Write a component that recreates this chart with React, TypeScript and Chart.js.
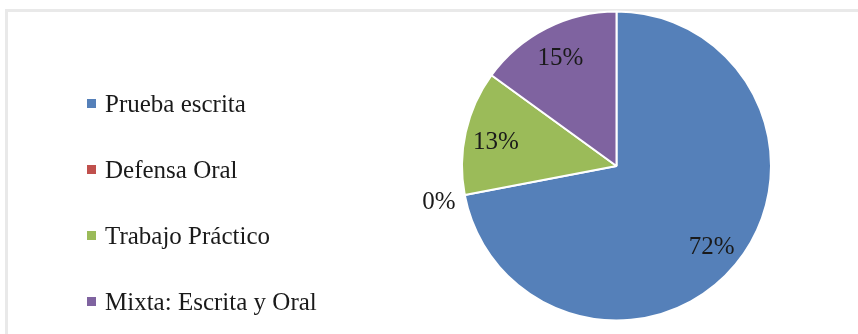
import React, { useEffect, useRef } from "react";
import { Chart, registerables } from "chart.js";

Chart.register(...registerables);

const categories = ["Prueba escrita", "Defensa Oral", "Trabajo Práctico", "Mixta: Escrita y Oral"];
const values = [72, 0, 13, 15];
const valueLabels = ["72%", "0%", "13%", "15%"];
const colors = ["#5580B9", "#C0504D", "#9BBB59", "#7F63A0"];

const FONT = "'Liberation Serif', 'Times New Roman', serif";

const framePlugin = {
  id: "frame",
  beforeDraw(chart: any) {
    const ctx = chart.ctx;
    ctx.save();
    ctx.fillStyle = "#ffffff";
    ctx.fillRect(0, 0, chart.width, chart.height);
    ctx.strokeStyle = "#e9e9e9";
    ctx.lineWidth = 3;
    ctx.beginPath();
    ctx.moveTo(6.5, chart.height + 2);
    ctx.lineTo(6.5, 10.5);
    ctx.lineTo(chart.width + 2, 10.5);
    ctx.stroke();
    ctx.restore();
  },
};

const legendPlugin = {
  id: "customLegend",
  afterDraw(chart: any) {
    const ctx = chart.ctx;
    const labels = chart.data.labels as string[];
    const bg = chart.data.datasets[0].backgroundColor as string[];
    ctx.save();
    ctx.font = `25px ${FONT}`;
    ctx.textBaseline = "middle";
    ctx.textAlign = "left";
    labels.forEach((lab, i) => {
      const y = 104 + i * 66;
      ctx.fillStyle = bg[i];
      ctx.fillRect(87, y - 5, 9, 9);
      ctx.fillStyle = "#1a1a1a";
      ctx.fillText(lab, 105, y + 1);
    });
    ctx.restore();
  },
};

const dataLabelPlugin = {
  id: "sliceLabels",
  afterDatasetsDraw(chart: any) {
    const ctx = chart.ctx;
    const meta = chart.getDatasetMeta(0);
    ctx.save();
    ctx.font = `25px ${FONT}`;
    ctx.fillStyle = "#1a1a1a";
    ctx.textAlign = "center";
    ctx.textBaseline = "middle";
    meta.data.forEach((arc: any, i: number) => {
      const { x, y, startAngle, endAngle, outerRadius } = arc.getProps(
        ["x", "y", "startAngle", "endAngle", "outerRadius"],
        true
      );
      const mid = (startAngle + endAngle) / 2;
      const v = values[i];
      const f = v > 0 ? 0.8 : 1.17;
      const lx = x + Math.cos(mid) * outerRadius * f;
      const ly = y + Math.sin(mid) * outerRadius * f + 3;
      ctx.fillText(valueLabels[i], lx, ly);
    });
    ctx.restore();
  },
};

export default function App() {
  const ref = useRef<HTMLCanvasElement>(null);
  useEffect(() => {
    if (!ref.current) return;
    const chart = new Chart(ref.current, {
      type: "pie",
      data: {
        labels: categories,
        datasets: [
          {
            data: values,
            backgroundColor: colors,
            borderColor: "#ffffff",
            borderWidth: 2,
          },
        ],
      },
      options: {
        animation: false,
        responsive: false,
        maintainAspectRatio: false,
        layout: { padding: { left: 461, right: 86, top: 10, bottom: 12 } },
        plugins: {
          legend: { display: false },
          tooltip: { enabled: false },
        },
      },
      plugins: [framePlugin, legendPlugin, dataLabelPlugin],
    });
    return () => chart.destroy();
  }, []);
  return (
    <div style={{ position: "fixed", left: 0, top: 0, width: 858, height: 334, background: "#fff" }}>
      <canvas ref={ref} width={858} height={334} style={{ display: "block", width: 858, height: 334 }} />
    </div>
  );
}
